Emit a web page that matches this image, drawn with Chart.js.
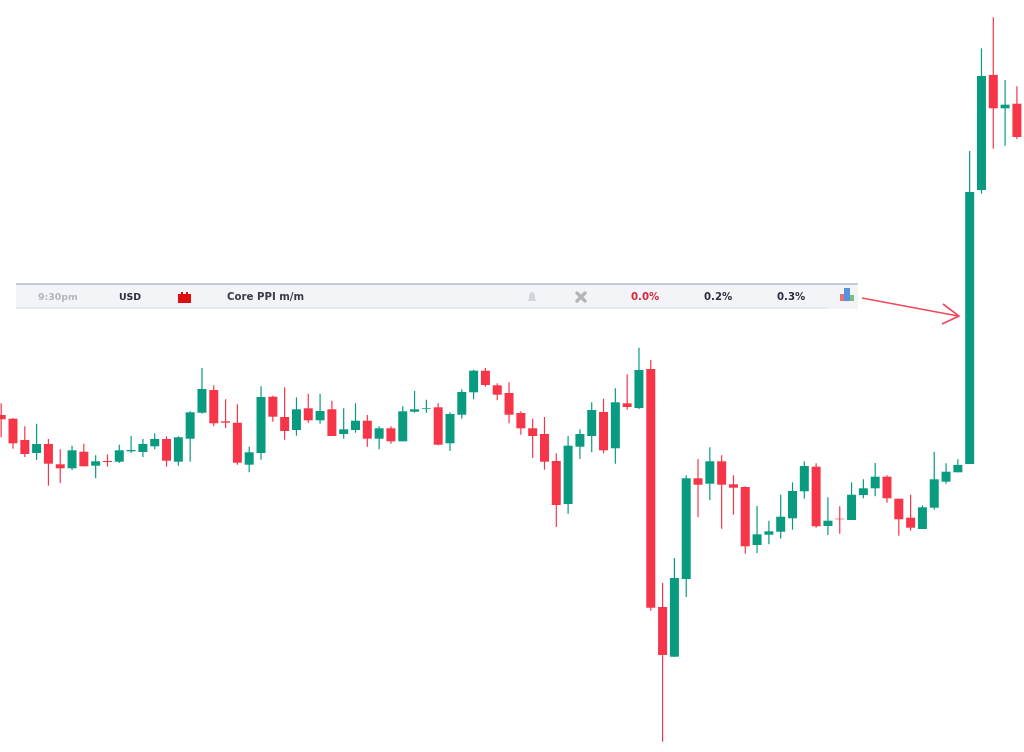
<!DOCTYPE html>
<html>
<head>
<meta charset="utf-8">
<title>Core PPI m/m</title>
<script src="https://cdn.jsdelivr.net/npm/chart.js@4"></script>
<style>
  html, body { margin: 0; padding: 0; background: #fff; }
  #wrap { position: relative; width: 1024px; height: 752px; overflow: hidden; }
  #priceChart { position: absolute; left: 0; top: 0; }
  #banner { position: absolute; left: 16px; top: 283px; width: 842px; height: 24px;
    background: #f3f4f8; border-top: 2px solid #c6c9da; }
  #bannerEdge { position: absolute; left: 16px; top: 307px; width: 812px; height: 2px; background: #e8eaf1; }
  #banner span { position: absolute; top: 6px; font: bold 9.4px "DejaVu Sans", sans-serif;
    line-height: 12px; color: #2b2f3f; white-space: nowrap; filter: blur(0.25px); }
  #banner span.wide { font-size: 10.2px; }
  #banner svg { position: absolute; filter: blur(0.3px); }
  #overlay { position: absolute; left: 0; top: 0; }
</style>
</head>
<body>
<div id="wrap">
  <canvas id="priceChart" width="1024" height="752"></canvas>
  <div id="banner">
    <span style="left:22px;color:#b4b6bc">9:30pm</span>
    <span style="left:103px">USD</span>
    <svg style="left:162px;top:7px" width="13" height="11"><path d="M0 2h3V0h2v2h3V0h2v2h3v9H0z" fill="#e00d0d"/></svg>
    <span class="wide" style="left:211px;color:#3a3d4a">Core PPI m/m</span>
    <svg style="left:511px;top:6px" width="10" height="12"><path d="M5 1c2 0 3 2 3 4v3l1 1v1H1V9l1-1V5c0-2 1-4 3-4z" fill="#d3d5da"/></svg>
    <svg style="left:559px;top:6px" width="12" height="12"><path d="M2 2l8 8M10 2l-8 8" stroke="#b4b6ba" stroke-width="3.4" stroke-linecap="round"/></svg>
    <span class="wide" style="left:615px;color:#d6293c">0.0%</span>
    <span class="wide" style="left:688px">0.2%</span>
    <span class="wide" style="left:761px">0.3%</span>
    <svg style="left:824px;top:3px" width="15" height="14">
      <rect x="0" y="6" width="5" height="7" fill="#e8707c"/>
      <rect x="4" y="0" width="6" height="13" fill="#5b90dc"/>
      <rect x="10" y="7" width="4" height="6" fill="#7cc07c"/>
    </svg>
  </div>
  <div id="bannerEdge"></div>
  <svg id="overlay" width="1024" height="752">
    <path d="M862 298L958 316M943 304L959 316L942 324" fill="none" stroke="#f2485a" stroke-width="1.6"/>
  </svg>
</div>
<script>
// Candles, price units are arbitrary
const opens = [337, 333.3, 312, 299, 308, 287.7, 283.7, 300.3, 286.3, 291,
  290.3, 300.7, 300, 305.7, 313, 290.3, 313.3, 339.3, 362, 330.7,
  329.3, 287.3, 299, 355.3, 335, 322, 343.7, 331.7, 342.7, 318,
  322, 331.3, 313.3, 323.7, 310.7, 340.3, 343.3, 344.7, 308.7, 337.3,
  359.7, 381.3, 366.7, 359, 339, 323.7, 318, 291, 248, 305.3,
  316, 340, 303.7, 348.7, 344, 383, 145, 95.3, 173, 273.7,
  268.3, 290.7, 267.7, 265, 207, 217.3, 220.3, 233.7, 260.7, 285.3,
  226, 233.3, 232, 257, 263.7, 275.3, 253.3, 234.3, 223, 244.3,
  270.3, 279.7, 288, 562, 677, 643.7, 648.3];
const highs = [348.7, 334, 325.7, 328.3, 313, 302.7, 306.3, 308.3, 296.7, 297.7,
  307.3, 316, 313, 318.7, 315.7, 315.7, 340.7, 384, 366.7, 352.7,
  347.7, 305.3, 365.7, 356.3, 364.7, 354.7, 358.3, 358.3, 351.3, 343.7,
  348.7, 337, 325.7, 325.7, 345.7, 361, 352.3, 348.7, 339.7, 362.7,
  382.3, 384, 368.7, 369.7, 340.7, 333.3, 335, 298.7, 316, 322.7,
  349.7, 353.3, 363.7, 377.7, 404.3, 392, 169, 194, 276.7, 293,
  304.7, 296.7, 276.7, 265.7, 246, 231.3, 257.3, 269.7, 290.7, 288.7,
  254.7, 245.7, 269.7, 272.7, 289, 276.7, 253.3, 257.3, 246.7, 300.3,
  288.7, 292.7, 601, 703.7, 734.7, 672, 665.7];
const lows = [314.7, 303.3, 295, 292, 266.3, 269, 282, 285.7, 273.7, 285.3,
  289, 299, 295, 302.7, 285.3, 286.3, 290.3, 338.3, 325.7, 324,
  287.3, 279.7, 292.3, 330.3, 312.3, 316.3, 329.3, 328.3, 316, 313.3,
  319.3, 305.3, 302.7, 308.3, 310.7, 339.3, 339.3, 306.7, 301, 333.3,
  352.7, 365.3, 351.7, 328.7, 317.3, 294, 282.3, 225, 238.3, 293,
  299.7, 298.7, 288.3, 342.3, 343, 141.3, 10.3, 95.3, 155, 234.7,
  251.7, 223.3, 237.3, 198.3, 199, 207.7, 213.3, 222.3, 253.3, 224.3,
  217, 218.3, 232, 253.7, 255.7, 249.3, 216.3, 221.3, 223, 242.3,
  268.3, 279.7, 288, 558.3, 603.3, 606.3, 613];
const closes = [332.7, 308.7, 298, 308, 288.3, 283.7, 301.7, 285.7, 290.7, 290,
  301.7, 302, 308, 313, 291.3, 314.7, 339.7, 363, 328.7, 329.3,
  289.3, 299.7, 355, 335.3, 321, 342.7, 331.7, 341, 316, 322.7,
  331.3, 313.3, 323.7, 310.7, 340.7, 342.7, 344, 307.3, 338, 360,
  381.3, 367, 357.3, 337.3, 323.7, 316, 290.3, 247, 306.3, 318,
  342, 301.7, 349.7, 345, 382, 144.3, 97, 174, 273.7, 267.3,
  290.7, 267.3, 264.3, 205.7, 217.7, 220.7, 235.3, 261, 286, 225.7,
  231.3, 232.7, 257.3, 263.7, 275.3, 253.7, 232.7, 224.3, 244.7, 272.7,
  280.3, 287, 560, 676, 643.7, 647.3, 615];

const upColor = "#089b80";
const downColor = "#f63648";

const candleColors = closes.map((c, i) => (c >= opens[i] ? upColor : downColor));

new Chart(document.getElementById("priceChart").getContext("2d"), {
  type: "bar",
  data: {
    datasets: [
      {
        label: "Body",
        data: opens.map((o, i) => ({ x: i, y: [o, closes[i]] })),
        backgroundColor: candleColors,
        barThickness: 9,
        inflateAmount: 0,
        order: 1,
      },
      {
        label: "Wick",
        data: lows.map((l, i) => ({ x: i, y: [l, highs[i]] })),
        backgroundColor: candleColors,
        barThickness: 1.2,
        inflateAmount: 0,
        order: 2,
      },
    ],
  },
  options: {
    responsive: false,
    animation: false,
    layout: { padding: 0 },
    plugins: { legend: { display: false }, tooltip: { enabled: false } },
    scales: {
      x: { type: "linear", display: false, stacked: true, offset: false, min: -0.1, max: 86.6 },
      y: { display: false, min: 0, max: 752 },
    },
  },
});
</script>
</body>
</html>
